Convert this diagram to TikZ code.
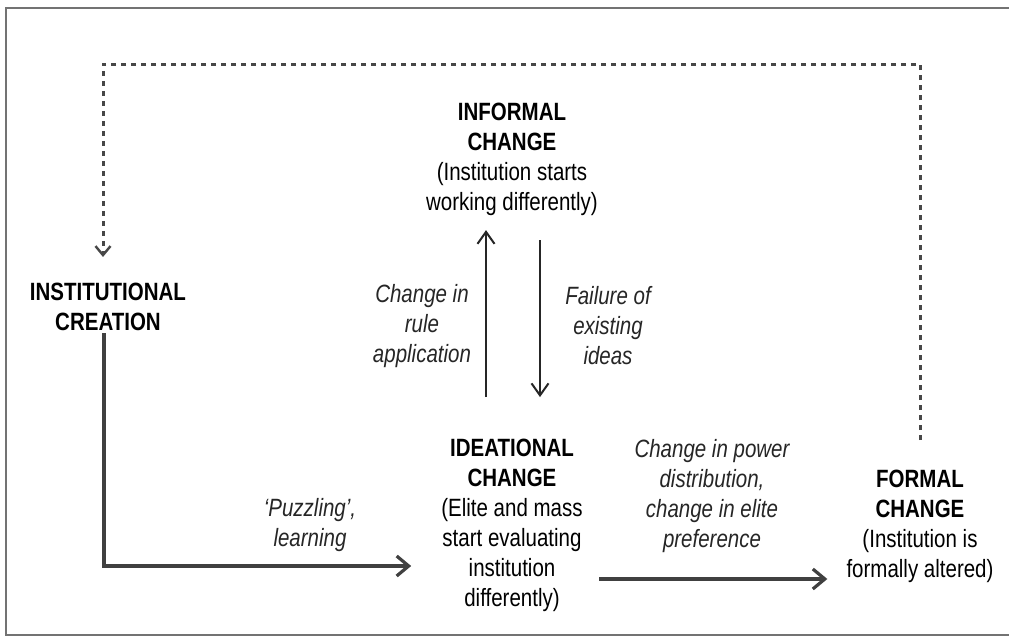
\documentclass[tikz,border=0pt]{standalone}
\usepackage{fontspec}
\setmainfont{Liberation Sans}[FakeStretch=0.82]
\usetikzlibrary{arrows.meta}
\begin{document}
\begin{tikzpicture}[x=1pt,y=-1pt,
  lab/.style={align=center, inner sep=0pt, font=\fontsize{25}{30}\selectfont, text=black},
  ilab/.style={lab, font=\fontsize{25}{30}\selectfont\itshape, text=black!85},
  frame/.style={draw=black!55, line width=2.4pt},
  fb/.style={draw=black!72, line width=3pt, dash pattern=on 5pt off 5pt,
    -{Straight Barb[length=9pt,width=15pt,line width=2.4pt]}},
  arrV/.style={draw=black!85, line width=2pt,
    -{Straight Barb[length=12pt,width=17pt]}},
  arrH/.style={draw=black!75, line width=3.2pt,
    -{Straight Barb[length=12pt,width=20pt]}}
]
\useasboundingbox (0,0) rectangle (1009,637);
\fill[white] (0,0) rectangle (1009,637);
\draw[frame] (1012,8) -- (6,8) -- (6,635) -- (1012,635);

\node[lab] (informal) at (512,159.6) {\textbf{INFORMAL}\\\textbf{CHANGE}\\(Institution starts\\working differently)};
\node[lab] (creation) at (108,307) {\textbf{INSTITUTIONAL}\\\textbf{CREATION}};
\node[lab] (ideational) at (512,525.6) {\textbf{IDEATIONAL}\\\textbf{CHANGE}\\(Elite and mass\\start evaluating\\institution\\differently)};
\node[lab] (formal) at (920,526.6) {\textbf{FORMAL}\\\textbf{CHANGE}\\(Institution is\\formally altered)};

\node[ilab] (rule) at (422,325.6) {Change in\\rule\\application};
\node[ilab] (failure) at (608,325.6) {Failure of\\existing\\ideas};
\node[ilab] (puzzling) at (310,524.6) {‘Puzzling’,\\learning};
\node[ilab] (power) at (712,495.6) {Change in power\\distribution,\\change in elite\\preference};

\draw[arrV, shorten <=42pt, shorten >=14pt] ([xshift=-26pt]ideational.north) -- ([xshift=-26pt]ideational.north |- informal.south);
\draw[arrV, shorten <=24pt, shorten >=42pt] ([xshift=28pt]informal.south) -- ([xshift=28pt]informal.south |- ideational.north);

\draw[fb, shorten <=30pt, shorten >=26pt] (formal.north) |- ([xshift=-5pt]creation.north |- 0,64) -- ([xshift=-5pt]creation.north);

\draw[arrH, shorten <=2pt, shorten >=30pt] ([xshift=-4pt]creation.south) |- ([yshift=-40.4pt]ideational.west);
\draw[arrH, shorten <=16.5pt, shorten >=19pt] ([yshift=-53.4pt]ideational.east) -- ([yshift=-53.4pt]ideational.east -| formal.west);
\end{tikzpicture}
\end{document}
